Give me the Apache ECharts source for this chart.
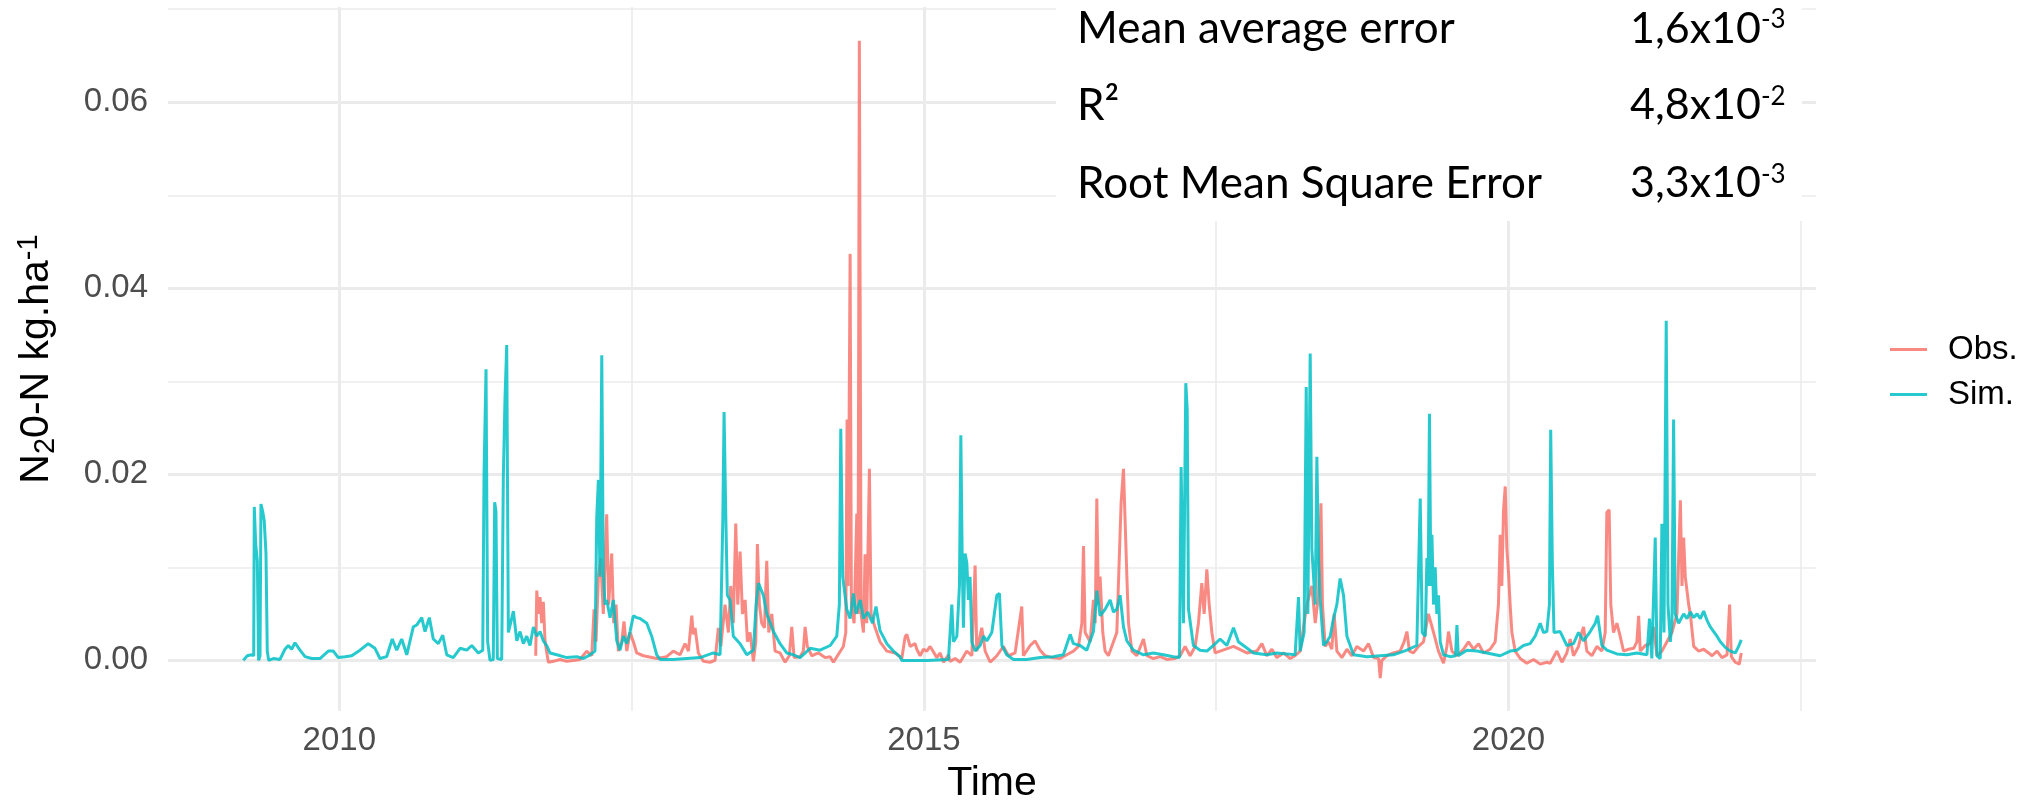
<!DOCTYPE html>
<html><head><meta charset="utf-8">
<script src="https://cdn.jsdelivr.net/npm/echarts@6/dist/echarts.min.js"></script>
<style>html,body{margin:0;padding:0;background:#fff}#c{width:2031px;height:802px}</style>
</head><body><div id="c"></div>
<script>
// ---- data (decimal year, N2O-N kg.ha-1) ----
const simYears = [2009.179,2009.213,2009.250,2009.268,2009.273,2009.285,2009.299,2009.310,2009.322,2009.330,2009.345,2009.358,2009.373,2009.384,2009.396,2009.435,2009.493,2009.535,2009.564,2009.593,2009.621,2009.664,2009.707,2009.764,2009.835,2009.906,2009.949,2009.991,2010.049,2010.106,2010.177,2010.248,2010.305,2010.348,2010.405,2010.453,2010.491,2010.534,2010.577,2010.633,2010.662,2010.705,2010.733,2010.770,2010.804,2010.847,2010.885,2010.919,2010.975,2011.033,2011.090,2011.133,2011.189,2011.227,2011.238,2011.255,2011.269,2011.289,2011.317,2011.329,2011.340,2011.352,2011.389,2011.403,2011.417,2011.432,2011.446,2011.460,2011.489,2011.518,2011.546,2011.574,2011.603,2011.631,2011.660,2011.689,2011.717,2011.745,2011.774,2011.802,2011.860,2011.945,2012.031,2012.087,2012.145,2012.187,2012.202,2012.216,2012.230,2012.245,2012.258,2012.273,2012.287,2012.316,2012.344,2012.373,2012.401,2012.430,2012.459,2012.487,2012.515,2012.544,2012.572,2012.630,2012.672,2012.715,2012.743,2012.857,2012.972,2013.086,2013.199,2013.257,2013.280,2013.291,2013.305,2013.319,2013.342,2013.370,2013.428,2013.485,2013.542,2013.565,2013.585,2013.627,2013.656,2013.713,2013.770,2013.827,2013.884,2013.941,2014.027,2014.112,2014.198,2014.255,2014.277,2014.289,2014.306,2014.340,2014.369,2014.397,2014.420,2014.455,2014.483,2014.520,2014.560,2014.590,2014.625,2014.683,2014.739,2014.796,2014.811,2015.025,2015.210,2015.239,2015.253,2015.282,2015.304,2015.316,2015.327,2015.338,2015.352,2015.367,2015.381,2015.395,2015.410,2015.438,2015.481,2015.509,2015.538,2015.581,2015.624,2015.646,2015.667,2015.709,2015.766,2015.880,2015.994,2016.108,2016.193,2016.251,2016.279,2016.336,2016.393,2016.450,2016.479,2016.507,2016.550,2016.593,2016.621,2016.650,2016.678,2016.707,2016.736,2016.792,2016.878,2016.963,2017.049,2017.134,2017.186,2017.200,2017.220,2017.240,2017.252,2017.263,2017.305,2017.362,2017.420,2017.476,2017.534,2017.591,2017.648,2017.690,2017.733,2017.819,2017.933,2018.019,2018.104,2018.175,2018.204,2018.218,2018.252,2018.270,2018.284,2018.304,2018.318,2018.332,2018.347,2018.361,2018.375,2018.389,2018.418,2018.446,2018.475,2018.503,2018.532,2018.560,2018.589,2018.618,2018.674,2018.789,2018.903,2019.016,2019.131,2019.216,2019.245,2019.262,2019.288,2019.302,2019.313,2019.324,2019.336,2019.345,2019.359,2019.373,2019.387,2019.401,2019.416,2019.444,2019.501,2019.547,2019.559,2019.570,2019.644,2019.730,2019.815,2019.929,2020.014,2020.071,2020.128,2020.185,2020.228,2020.271,2020.299,2020.328,2020.350,2020.361,2020.375,2020.389,2020.442,2020.499,2020.556,2020.599,2020.642,2020.699,2020.742,2020.762,2020.799,2020.841,2020.927,2021.013,2021.098,2021.184,2021.206,2021.226,2021.255,2021.270,2021.298,2021.312,2021.330,2021.349,2021.364,2021.384,2021.398,2021.412,2021.426,2021.455,2021.498,2021.527,2021.555,2021.584,2021.613,2021.641,2021.669,2021.698,2021.726,2021.755,2021.783,2021.812,2021.854,2021.897,2021.940,2021.968,2021.991];
const simValues = [0.0000,0.0005,0.0006,0.0005,0.0165,0.0125,0.0107,0.0000,0.0005,0.0168,0.0160,0.0150,0.0115,0.0010,0.0000,0.0002,0.0001,0.0012,0.0016,0.0012,0.0019,0.0011,0.0004,0.0002,0.0002,0.0010,0.0010,0.0003,0.0004,0.0005,0.0011,0.0018,0.0013,0.0002,0.0004,0.0023,0.0011,0.0023,0.0006,0.0036,0.0038,0.0046,0.0031,0.0046,0.0023,0.0018,0.0027,0.0006,0.0003,0.0013,0.0011,0.0016,0.0008,0.0011,0.0200,0.0313,0.0020,0.0000,0.0001,0.0170,0.0160,0.0002,0.0001,0.0197,0.0280,0.0339,0.0030,0.0028,0.0053,0.0021,0.0031,0.0018,0.0026,0.0016,0.0036,0.0026,0.0031,0.0021,0.0016,0.0008,0.0006,0.0003,0.0004,0.0002,0.0006,0.0010,0.0154,0.0194,0.0090,0.0328,0.0095,0.0060,0.0065,0.0046,0.0065,0.0021,0.0011,0.0026,0.0018,0.0031,0.0048,0.0046,0.0045,0.0040,0.0026,0.0006,0.0001,0.0001,0.0002,0.0003,0.0008,0.0006,0.0150,0.0267,0.0160,0.0070,0.0065,0.0026,0.0018,0.0006,0.0011,0.0060,0.0083,0.0070,0.0050,0.0031,0.0018,0.0008,0.0006,0.0003,0.0013,0.0011,0.0016,0.0026,0.0060,0.0249,0.0090,0.0055,0.0045,0.0072,0.0050,0.0065,0.0045,0.0052,0.0040,0.0058,0.0032,0.0018,0.0010,0.0004,0.0000,0.0000,0.0001,0.0060,0.0020,0.0026,0.0080,0.0242,0.0115,0.0035,0.0115,0.0105,0.0065,0.0090,0.0020,0.0010,0.0016,0.0026,0.0021,0.0030,0.0070,0.0072,0.0016,0.0006,0.0001,0.0001,0.0003,0.0004,0.0006,0.0028,0.0018,0.0016,0.0011,0.0031,0.0075,0.0048,0.0055,0.0065,0.0052,0.0055,0.0070,0.0036,0.0021,0.0011,0.0006,0.0008,0.0006,0.0004,0.0003,0.0208,0.0040,0.0298,0.0270,0.0055,0.0016,0.0011,0.0010,0.0016,0.0023,0.0016,0.0035,0.0020,0.0016,0.0008,0.0006,0.0008,0.0007,0.0006,0.0068,0.0010,0.0030,0.0294,0.0050,0.0330,0.0120,0.0122,0.0060,0.0219,0.0110,0.0065,0.0016,0.0020,0.0026,0.0045,0.0060,0.0088,0.0070,0.0026,0.0006,0.0004,0.0005,0.0006,0.0011,0.0016,0.0174,0.0030,0.0026,0.0110,0.0080,0.0265,0.0080,0.0135,0.0060,0.0100,0.0050,0.0070,0.0020,0.0006,0.0004,0.0005,0.0038,0.0005,0.0011,0.0010,0.0008,0.0005,0.0010,0.0011,0.0016,0.0018,0.0026,0.0040,0.0030,0.0031,0.0060,0.0248,0.0105,0.0030,0.0031,0.0016,0.0018,0.0030,0.0021,0.0031,0.0040,0.0048,0.0016,0.0011,0.0007,0.0006,0.0008,0.0006,0.0045,0.0002,0.0132,0.0005,0.0002,0.0147,0.0030,0.0365,0.0060,0.0020,0.0040,0.0259,0.0050,0.0040,0.0050,0.0045,0.0052,0.0046,0.0050,0.0045,0.0053,0.0043,0.0036,0.0031,0.0026,0.0020,0.0014,0.0010,0.0008,0.0015,0.0022];

const obsYears = [2011.680,2011.689,2011.703,2011.717,2011.731,2011.745,2011.760,2011.788,2011.831,2011.888,2011.945,2012.002,2012.059,2012.116,2012.159,2012.179,2012.196,2012.216,2012.236,2012.258,2012.287,2012.304,2012.330,2012.347,2012.367,2012.387,2012.416,2012.435,2012.459,2012.487,2012.515,2012.544,2012.601,2012.715,2012.800,2012.857,2012.914,2012.957,2012.986,2013.015,2013.028,2013.043,2013.071,2013.114,2013.171,2013.214,2013.242,2013.263,2013.299,2013.328,2013.348,2013.370,2013.391,2013.408,2013.428,2013.448,2013.471,2013.491,2013.513,2013.542,2013.562,2013.576,2013.593,2013.613,2013.636,2013.656,2013.673,2013.699,2013.727,2013.770,2013.813,2013.849,2013.870,2013.890,2013.941,2013.969,2013.984,2014.003,2014.041,2014.098,2014.155,2014.198,2014.226,2014.311,2014.332,2014.343,2014.352,2014.369,2014.380,2014.403,2014.426,2014.437,2014.448,2014.463,2014.483,2014.497,2014.511,2014.534,2014.548,2014.583,2014.625,2014.683,2014.754,2014.811,2014.839,2014.854,2014.882,2014.925,2014.939,2014.968,2014.996,2015.025,2015.053,2015.068,2015.111,2015.139,2015.168,2015.210,2015.224,2015.267,2015.310,2015.367,2015.410,2015.438,2015.452,2015.495,2015.524,2015.567,2015.624,2015.680,2015.723,2015.780,2015.837,2015.851,2015.909,2015.951,2015.994,2016.037,2016.094,2016.165,2016.222,2016.279,2016.322,2016.351,2016.365,2016.379,2016.422,2016.450,2016.465,2016.479,2016.493,2016.507,2016.530,2016.550,2016.578,2016.650,2016.687,2016.707,2016.721,2016.736,2016.750,2016.779,2016.821,2016.878,2016.907,2016.963,2017.021,2017.078,2017.149,2017.191,2017.234,2017.277,2017.320,2017.348,2017.377,2017.397,2017.420,2017.440,2017.463,2017.491,2017.534,2017.648,2017.762,2017.848,2017.891,2017.933,2017.976,2018.019,2018.076,2018.133,2018.175,2018.218,2018.246,2018.275,2018.318,2018.347,2018.375,2018.396,2018.409,2018.432,2018.461,2018.489,2018.509,2018.532,2018.575,2018.618,2018.660,2018.703,2018.760,2018.803,2018.846,2018.889,2018.903,2018.917,2018.960,2019.016,2019.073,2019.107,2019.131,2019.153,2019.187,2019.230,2019.273,2019.315,2019.359,2019.401,2019.444,2019.473,2019.487,2019.516,2019.559,2019.615,2019.658,2019.701,2019.744,2019.786,2019.843,2019.886,2019.914,2019.929,2019.943,2019.957,2019.972,2019.986,2020.000,2020.014,2020.029,2020.057,2020.100,2020.157,2020.214,2020.271,2020.328,2020.357,2020.414,2020.457,2020.499,2020.528,2020.556,2020.599,2020.627,2020.642,2020.670,2020.713,2020.756,2020.799,2020.827,2020.841,2020.861,2020.875,2020.898,2020.927,2020.955,2020.984,2021.027,2021.071,2021.098,2021.113,2021.127,2021.170,2021.213,2021.241,2021.270,2021.312,2021.355,2021.398,2021.441,2021.470,2021.484,2021.498,2021.512,2021.527,2021.541,2021.555,2021.584,2021.627,2021.669,2021.712,2021.741,2021.783,2021.826,2021.869,2021.891,2021.906,2021.940,2021.974,2021.991];
const obsValues = [0.0005,0.0075,0.0050,0.0068,0.0040,0.0063,0.0020,-0.0002,-0.0001,0.0001,-0.0001,0.0000,0.0001,0.0010,0.0005,0.0055,0.0020,0.0090,0.0110,0.0050,0.0157,0.0060,0.0115,0.0040,0.0060,0.0010,0.0020,0.0042,0.0010,0.0030,0.0020,0.0008,0.0005,0.0002,0.0004,0.0010,0.0006,0.0018,0.0010,0.0048,0.0028,0.0035,0.0008,-0.0001,-0.0002,0.0000,0.0035,0.0015,0.0060,0.0030,0.0080,0.0040,0.0147,0.0060,0.0117,0.0050,0.0065,0.0020,0.0030,-0.0001,0.0020,0.0125,0.0060,0.0040,0.0035,0.0107,0.0030,0.0050,0.0010,0.0008,-0.0002,0.0005,0.0036,0.0003,0.0004,0.0010,0.0036,0.0015,0.0005,0.0008,0.0003,0.0004,-0.0002,0.0015,0.0030,0.0259,0.0080,0.0437,0.0060,0.0040,0.0158,0.0050,0.0666,0.0050,0.0030,0.0114,0.0040,0.0206,0.0050,0.0035,0.0020,0.0010,0.0008,0.0002,0.0025,0.0028,0.0015,0.0018,0.0012,0.0005,0.0012,0.0010,0.0015,0.0012,0.0003,0.0008,-0.0002,0.0006,-0.0001,0.0002,-0.0002,0.0010,0.0005,0.0102,0.0010,0.0035,0.0010,-0.0002,0.0005,0.0015,0.0005,0.0008,0.0058,0.0005,0.0016,0.0021,0.0011,0.0005,0.0003,0.0002,0.0006,0.0010,0.0015,0.0040,0.0123,0.0030,0.0020,0.0065,0.0040,0.0174,0.0060,0.0090,0.0030,0.0010,0.0005,0.0030,0.0170,0.0206,0.0150,0.0090,0.0040,0.0010,0.0005,0.0023,0.0005,0.0002,0.0004,0.0001,0.0002,0.0005,0.0015,0.0005,0.0015,0.0040,0.0083,0.0050,0.0098,0.0060,0.0030,0.0008,0.0010,0.0015,0.0008,0.0010,0.0018,0.0005,0.0012,0.0003,0.0008,0.0002,0.0005,0.0010,0.0035,0.0060,0.0080,0.0040,0.0070,0.0169,0.0060,0.0015,0.0020,0.0012,0.0050,0.0010,0.0003,0.0012,0.0005,0.0015,0.0010,0.0018,0.0003,0.0002,-0.0019,0.0000,0.0005,0.0008,0.0010,0.0020,0.0031,0.0010,0.0008,0.0015,0.0020,0.0050,0.0030,0.0010,-0.0003,0.0015,0.0031,0.0010,0.0005,0.0012,0.0020,0.0012,0.0018,0.0008,0.0012,0.0020,0.0060,0.0135,0.0080,0.0160,0.0187,0.0120,0.0095,0.0060,0.0030,0.0010,0.0002,-0.0003,0.0001,-0.0004,-0.0002,-0.0003,0.0010,-0.0002,0.0008,0.0023,0.0005,0.0015,0.0030,0.0036,0.0010,0.0005,0.0015,0.0010,0.0030,0.0159,0.0162,0.0060,0.0030,0.0040,0.0026,0.0010,0.0012,0.0013,0.0020,0.0048,0.0010,0.0016,0.0018,0.0036,0.0005,0.0010,0.0020,0.0030,0.0050,0.0172,0.0080,0.0132,0.0090,0.0090,0.0060,0.0050,0.0015,0.0010,0.0012,0.0008,0.0005,0.0010,0.0003,0.0006,0.0060,0.0004,-0.0002,-0.0004,0.0008];

const seriesNames = ['Obs.', 'Sim.'];
const xMajorTicks = [2010, 2015, 2020];
const xMinorTicks = [2012.5, 2017.5, 2022.5];
const yMajorTicks = [0, 0.02, 0.04, 0.06];
const yMinorTicks = [0.01, 0.03, 0.05, 0.07];
const statLabels = ['Mean average error', 'R²', 'Root Mean Square Error'];
const statMantissas = ['1,6x10', '4,8x10', '3,3x10'];
const statExponents = ['-3', '-2', '-3'];

const X_MIN = 2008.535, X_MAX = 2022.63;
const Y_MIN = -0.00544, Y_MAX = 0.07024;
const GRID = '#EBEBEB';
const AX_FONT = 'Liberation Sans, Arial, sans-serif';
const OBS_COLOR = '#F8766D', SIM_COLOR = '#00BFC4';

const chart = echarts.init(document.getElementById('c'), null, {renderer: 'canvas'});

function xAxisDef(ticks, major) {
  return {
    type: 'value', min: X_MIN, max: X_MAX, position: 'bottom',
    axisLine: {show: false},
    axisTick: {show: false, customValues: ticks},
    axisLabel: major ? {customValues: ticks, formatter: v => String(v), fontSize: 33, color: '#4D4D4D', fontFamily: AX_FONT, margin: 13} : {show: false, customValues: ticks},
    splitLine: {show: true, lineStyle: {color: GRID, width: major ? 3 : 1.6}},
    name: major ? 'Time' : '', nameLocation: 'middle', nameGap: 52,
    nameTextStyle: {fontSize: 41, color: '#000', fontFamily: AX_FONT}
  };
}
function yAxisDef(ticks, major) {
  return {
    type: 'value', min: Y_MIN, max: Y_MAX, position: 'left',
    axisLine: {show: false},
    axisTick: {show: false, customValues: ticks},
    axisLabel: major ? {customValues: ticks, formatter: v => v.toFixed(2), fontSize: 33, color: '#4D4D4D', fontFamily: AX_FONT, margin: 20} : {show: false, customValues: ticks},
    splitLine: {show: true, lineStyle: {color: GRID, width: major ? 3 : 1.6}},
    name: major ? 'N{sub|2}0-N kg.ha{sup|-1}' : '', nameLocation: 'middle', nameGap: 108, nameRotate: 90,
    nameTextStyle: {
      fontSize: 41, color: '#000', fontFamily: AX_FONT, lineHeight: 46,
      rich: {
        sub: {fontSize: 29, fontFamily: AX_FONT, color: '#000', verticalAlign: 'bottom', lineHeight: 29},
        sup: {fontSize: 29, fontFamily: AX_FONT, color: '#000', verticalAlign: 'top', lineHeight: 29}
      }
    }
  };
}

const rowY = [29, 105.5, 183.5];
const graphics = [{type: 'rect', z: 100, shape: {x: 1056, y: 0, width: 746, height: 221}, style: {fill: '#fff'}}];
statLabels.forEach((t, i) => {
  graphics.push({type: 'text', z: 101, x: 1077, y: rowY[i], style: {text: t, font: '44px Lato', fill: '#000', textAlign: 'left', textVerticalAlign: 'middle'}});
  graphics.push({type: 'text', z: 101, x: 1630, y: rowY[i], style: {
    text: statMantissas[i] + '{sup|' + statExponents[i] + '}', fontSize: 43, fontFamily: 'Lato', fill: '#000', lineHeight: 44,
    textAlign: 'left', textVerticalAlign: 'middle',
    rich: {sup: {fontSize: 26, fontFamily: 'Lato', fill: '#000', verticalAlign: 'top', lineHeight: 26}}
  }});
});

chart.setOption({
  animation: false,
  backgroundColor: '#fff',
  grid: {left: 168, right: 215, top: 7, bottom: 91, containLabel: false, outerBoundsMode: 'none'},
  xAxis: [xAxisDef(xMajorTicks, true), xAxisDef(xMinorTicks, false)],
  yAxis: [yAxisDef(yMajorTicks, true), yAxisDef(yMinorTicks, false)],
  legend: {
    data: seriesNames.map(n => ({name: n, icon: 'rect'})), orient: 'vertical', left: 1885, top: 328,
    itemWidth: 37, itemHeight: 3, itemGap: 12,
    formatter: n => '{p|}' + n,
    textStyle: {fontSize: 33, color: '#000', fontFamily: AX_FONT, rich: {p: {width: 16}}}
  },
  graphic: graphics,
  series: [
    {name: seriesNames[0], type: 'line', xAxisIndex: 0, yAxisIndex: 0, symbol: 'none', z: 2,
     data: obsYears.map((x, i) => [x, obsValues[i]]),
     lineStyle: {color: OBS_COLOR, width: 3, opacity: 0.85}, itemStyle: {color: OBS_COLOR, opacity: 0.85}},
    {name: seriesNames[1], type: 'line', xAxisIndex: 0, yAxisIndex: 0, symbol: 'none', z: 3,
     data: simYears.map((x, i) => [x, simValues[i]]),
     lineStyle: {color: SIM_COLOR, width: 3, opacity: 0.85}, itemStyle: {color: SIM_COLOR, opacity: 0.85}}
  ]
});
</script></body></html>
